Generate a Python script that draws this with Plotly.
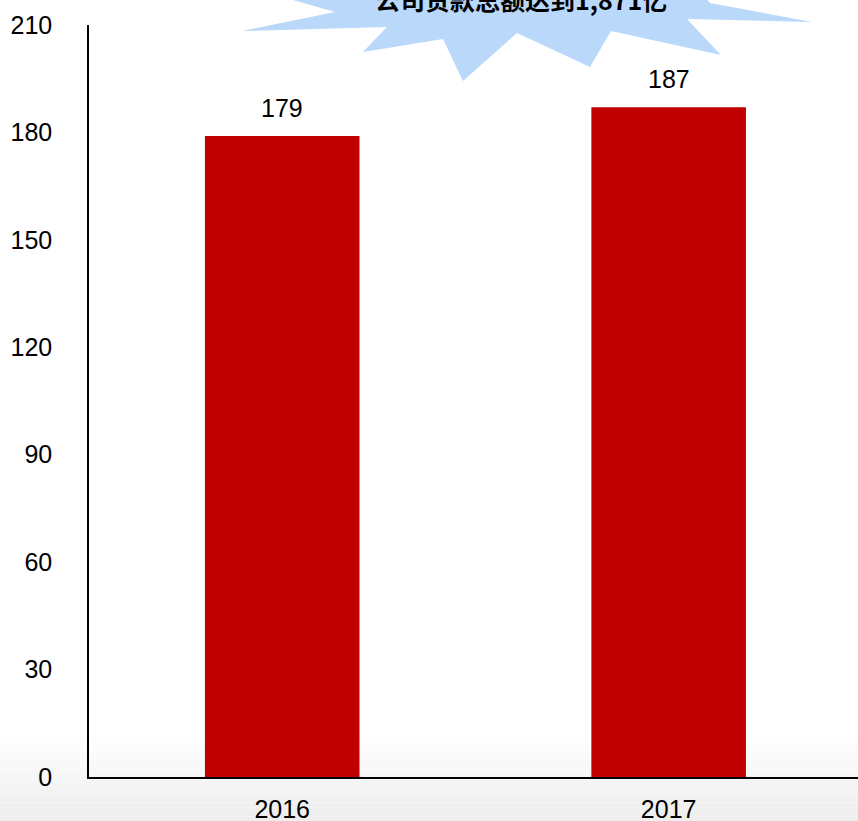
import plotly.graph_objects as go

years = ["2016", "2017"]
loans = [179, 187]
y_ticks = [0, 30, 60, 90, 120, 150, 180, 210]
callout = "公司贷款总额达到1,871亿"

W, H = 858, 821
L, R, T, B = 89, 0, 25, 44
pw, ph = W - L - R, H - T - B

def px(x):
    return (x - L) / pw

def py(y):
    return (H - B - y) / ph

fig = go.Figure()
fig.add_trace(go.Bar(
    x=years, y=loans, marker_color="#C00000", width=0.4,
    marker_line_width=0, hoverinfo="skip",
))

# starburst callout (decoration)
star = [(265, -8), (335, 12), (242, 31), (387, 27), (363, 52), (443, 39),
        (463, 81), (517, 33), (590, 67), (611, 31), (721, 55), (687, 19),
        (812, 22), (710, 3), (700, -8)]
path = "M " + " L ".join(f"{px(a):.4f},{py(b):.4f}" for a, b in star) + " Z"
shapes = [dict(type="path", xref="paper", yref="paper", path=path,
               fillcolor="#B9D8FA", line=dict(width=0), layer="above")]

# bottom soft gradient
n = 18
y0, y1 = 738, 821
for i in range(n):
    a = y0 + (y1 - y0) * i / n
    b = y0 + (y1 - y0) * (i + 1) / n
    g = int(255 - (255 - 238) * (i + 1) / n)
    shapes.append(dict(type="rect", xref="paper", yref="paper",
                       x0=px(0), x1=px(W), y0=py(b), y1=py(a),
                       fillcolor=f"rgb({g},{g},{g})", line=dict(width=0),
                       layer="below"))

FS = 25
annotations = [dict(x=i, y=loans[i], xref="x", yref="y", text=str(loans[i]),
                    showarrow=False, yanchor="bottom", yshift=12,
                    font=dict(family="Liberation Sans, Arial", size=FS, color="#000"))
               for i in range(len(years))]
annotations.append(dict(xref="paper", yref="paper", x=px(521), y=py(-1),
                        text="<b>" + callout + "</b>", showarrow=False,
                        xanchor="center", yanchor="middle",
                        font=dict(family="Noto Sans CJK SC", size=25, color="#000")))

fig.update_layout(
    width=W, height=H,
    margin=dict(l=L, r=R, t=T, b=B, autoexpand=False),
    paper_bgcolor="white", plot_bgcolor="rgba(0,0,0,0)",
    showlegend=False, bargap=0.6,
    shapes=shapes, annotations=annotations,
    font=dict(family="Liberation Sans, Arial", size=FS, color="#000"),
    xaxis=dict(type="category", range=[-0.5, 1.49], showline=True, linecolor="#000",
               linewidth=1.5, showgrid=False, zeroline=False, ticks="",
               automargin=False,
               ticklabelstandoff=9, tickfont=dict(size=FS, color="#000")),
    yaxis=dict(range=[0, 210], tickvals=y_ticks, showline=True, linecolor="#000",
               linewidth=1.5, showgrid=False, zeroline=False, ticks="",
               automargin=False,
               ticklabelstandoff=30, tickfont=dict(size=FS, color="#000")),
)

fig.write_html("out.html", config={"displayModeBar": False},
               post_script="document.body.style.margin='0';document.body.style.overflow='hidden';")
